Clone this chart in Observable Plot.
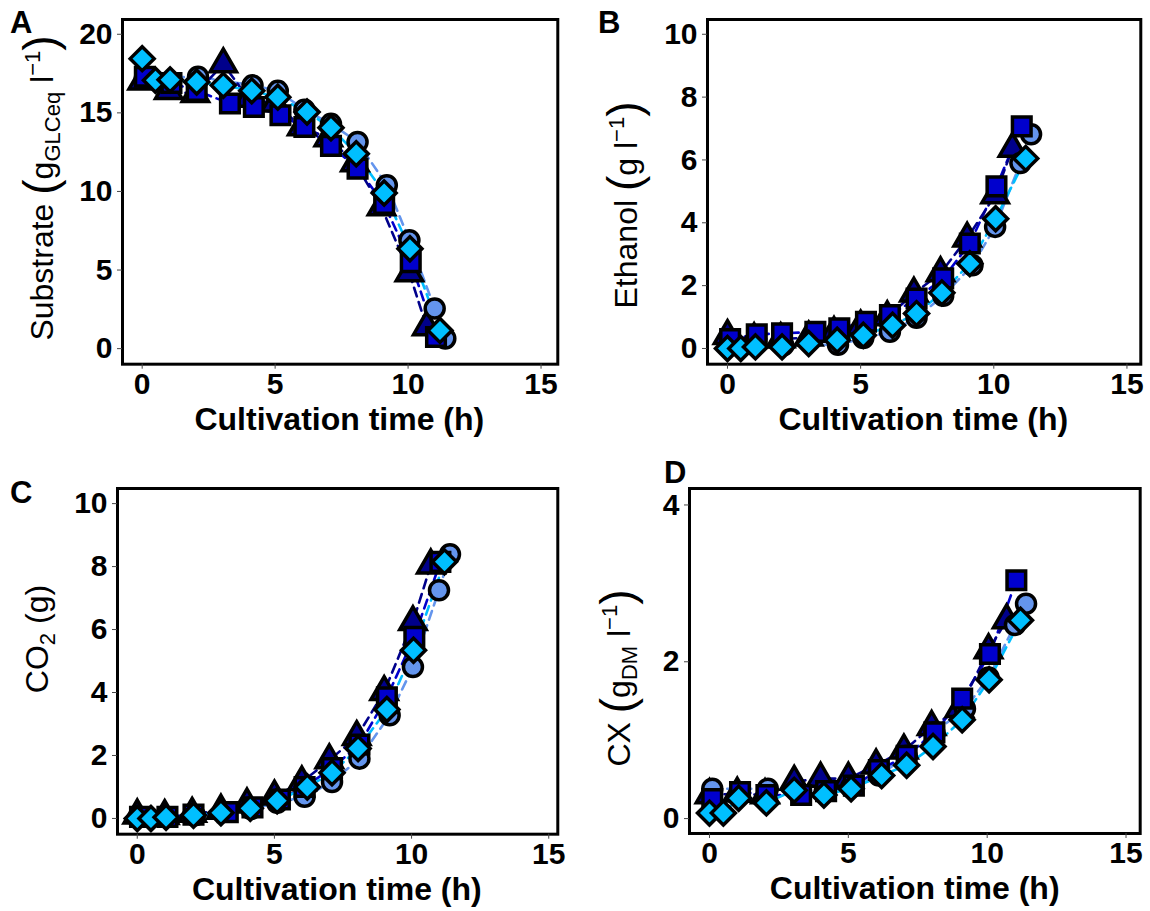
<!DOCTYPE html>
<html>
<head>
<meta charset="utf-8">
<script src="https://cdn.jsdelivr.net/npm/d3@7"></script>
<script src="https://cdn.jsdelivr.net/npm/@observablehq/plot@0.6"></script>
<style>
  html, body { margin: 0; padding: 0; background: #fff; }
  #wrap { position: relative; width: 1150px; height: 911px; background: #fff; overflow: hidden; }
  #wrap > svg, #wrap > figure { position: absolute; margin: 0; }
</style>
</head>
<body>
<div id="wrap"></div>
<script>
// ---- Data ----
const seriesNames = ["circle", "square", "triangle", "diamond"];
const seriesFill = ["#6495ED", "#0000CD", "#00008B", "#00BFFF"];
const seriesSymbol = ["circle", "square", "triangle", "diamond2"];

// time points (h) per series
const tCircle   = [0.1, 2.1, 4.15, 5.1, 6.1, 7.1, 8.1, 9.2, 10.05, 11.0, 11.4];
const tSquare   = [0.1, 1.1, 2.05, 3.3, 4.2, 5.2, 6.1, 7.1, 8.1, 9.1, 10.1, 11.05];
const tTriangle = [0, 1.0, 2.0, 3.05, 4.0, 5.0, 6.0, 7.0, 8.0, 9.0, 10.05, 10.7];
const tDiamond  = [0, 0.5, 1.05, 2.05, 3.05, 4.12, 5.1, 6.2, 7.1, 8.05, 9.1, 10.07, 11.2];

// Panel A: substrate (g GLCeq / l)
const substrateCircle   = [17.2, 17.3, 16.75, 16.4, 15.2, 14.3, 13.15, 10.4, 6.9, 2.55, 0.64];
const substrateSquare   = [17.3, 16.9, 16.4, 15.6, 15.37, 14.85, 14.1, 12.9, 11.45, 9.2, 5.5, 0.74];
const substrateTriangle = [17.0, 16.4, 16.2, 18.1, 15.9, 15.6, 14.1, 13.4, 11.8, 9.0, 4.8, 1.37];
const substrateDiamond  = [18.45, 17.07, 17.1, 16.96, 16.75, 16.4, 16.0, 15.05, 14.05, 12.4, 9.9, 6.36, 1.16];

// Panel B: ethanol (g / l)
const ethanolCircle   = [0.1, 0.1, 0.12, 0.33, 0.53, 0.98, 1.68, 2.65, 3.87, 5.9, 6.82];
const ethanolSquare   = [0.3, 0.45, 0.48, 0.53, 0.64, 0.85, 1.06, 1.59, 2.23, 3.34, 5.16, 7.07];
const ethanolTriangle = [0.4, 0.3, 0.3, 0.35, 0.5, 0.7, 1.0, 1.75, 2.4, 3.5, 4.88, 6.36];
const ethanolDiamond  = [0.0, 0.0, 0.05, 0.05, 0.16, 0.26, 0.42, 0.74, 1.11, 1.77, 2.7, 4.13, 6.05];

// Panel C: CO2 (g)
const co2Circle   = [0.05, 0.1, 0.3, 0.5, 0.69, 1.16, 1.9, 3.28, 4.81, 7.25, 8.39];
const co2Square   = [0.05, 0.05, 0.12, 0.2, 0.35, 0.6, 1.0, 1.6, 2.35, 3.85, 5.77, 8.15];
const co2Triangle = [0.1, 0.08, 0.15, 0.25, 0.45, 0.7, 1.15, 1.85, 2.59, 4.02, 6.24, 8.04];
const co2Diamond  = [0, 0, 0.04, 0.1, 0.18, 0.32, 0.56, 1.0, 1.45, 2.22, 3.46, 5.34, 8.15];

// Panel D: CX (g DM / l)
const cxCircle   = [0.38, 0.38, 0.35, 0.4, 0.55, 0.8, 1.1, 1.4, 1.8, 2.47, 2.74];
const cxSquare   = [0.25, 0.34, 0.3, 0.3, 0.35, 0.42, 0.62, 0.8, 1.1, 1.53, 2.1, 3.04];
const cxTriangle = [0.3, 0.32, 0.3, 0.47, 0.51, 0.51, 0.68, 0.87, 1.17, 1.4, 2.15, 2.53];
const cxDiamond  = [0.07, 0.07, 0.26, 0.2, 0.36, 0.3, 0.38, 0.55, 0.68, 0.92, 1.26, 1.77, 2.53];

const xTicks = [0, 5, 10, 15];
const yTicksA = [0, 5, 10, 15, 20];
const yTicksBC = [0, 2, 4, 6, 8, 10];
const yTicksD = [0, 2, 4];
const xTitle = "Cultivation time (h)";

// ---- Build ----
const times = [tCircle, tSquare, tTriangle, tDiamond];
function rows(vals) {
  const out = [];
  vals.forEach((arr, si) => arr.forEach((v, i) => out.push({series: seriesNames[si], s: si, t: times[si][i], v})));
  return out;
}

const panels = [
  {data: rows([substrateCircle, substrateSquare, substrateTriangle, substrateDiamond]),
   frame: {l: 121.7, t: 19.3, r: 557, b: 364}, xd: [-0.74, 15.63], yd: [-0.99, 20.94], yt: yTicksA},
  {data: rows([ethanolCircle, ethanolSquare, ethanolTriangle, ethanolDiamond]),
   frame: {l: 706.7, t: 19.3, r: 1140, b: 364}, xd: [-0.75, 15.52], yd: [-0.5, 10.47], yt: yTicksBC},
  {data: rows([co2Circle, co2Square, co2Triangle, co2Diamond]),
   frame: {l: 116.7, t: 488.3, r: 557, b: 834}, xd: [-0.72, 15.33], yd: [-0.5, 10.48], yt: yTicksBC},
  {data: rows([cxCircle, cxSquare, cxTriangle, cxDiamond]),
   frame: {l: 689.3, t: 488.3, r: 1140, b: 833.3}, xd: [-0.72, 15.51], yd: [-0.19, 4.21], yt: yTicksD}
];

const radius = {circle: 9.5, square: 10.5, triangle: 9.8, diamond: 10.8};
const drawOrder = [2, 0, 1, 3];
const wrap = document.getElementById("wrap");
const mL = 80, mR = 10, mT = 10, mB = 50;

panels.forEach(p => {
  const fw = p.frame.r - p.frame.l, fh = p.frame.b - p.frame.t;
  const marks = [];
  [0, 1, 2, 3].forEach(si => {
    marks.push(Plot.line(p.data.filter(d => d.s === si), {
      x: "t", y: "v", stroke: seriesFill[si], strokeWidth: 2.6, strokeDasharray: "9,6"
    }));
  });
  drawOrder.forEach(si => {
    marks.push(Plot.dot(p.data.filter(d => d.s === si), {
      x: "t", y: "v", symbol: () => seriesSymbol[si], r: radius[seriesNames[si]],
      fill: seriesFill[si], stroke: "black", strokeWidth: 3.5
    }));
  });
  marks.push(Plot.frame({stroke: "black", strokeWidth: 3}));
  marks.push(Plot.axisX({ticks: xTicks, tickFormat: d3.format("d"), tickSize: 5, tickPadding: 3, label: null, stroke: "#444"}));
  marks.push(Plot.axisY({ticks: p.yt, tickFormat: d3.format("d"), tickSize: 5, tickPadding: 5, label: null, stroke: "#444"}));
  const chart = Plot.plot({
    width: fw + mL + mR, height: fh + mT + mB,
    marginLeft: mL, marginRight: mR, marginTop: mT, marginBottom: mB,
    x: {domain: p.xd}, y: {domain: p.yd},
    symbol: {type: "identity"},
    style: {fontFamily: "'Liberation Sans', Arial, sans-serif", fontSize: "30px", fontWeight: "bold",
            color: "black", background: "transparent", overflow: "visible"},
    marks
  });
  chart.style.left = (p.frame.l - mL) + "px";
  chart.style.top = (p.frame.t - mT) + "px";
  wrap.appendChild(chart);
});

// ---- Titles overlay ----
const ov = d3.select(wrap).append("svg")
  .attr("width", 1150).attr("height", 911)
  .style("left", "0px").style("top", "0px").style("pointer-events", "none")
  .style("font-family", "'Liberation Sans', Arial, sans-serif");

// panel letters
[["A", 10, 33], ["B", 598, 33], ["C", 10, 503], ["D", 664, 483]].forEach(([s, x, y]) => {
  ov.append("text").attr("x", x).attr("y", y).attr("font-size", 31).attr("font-weight", "bold").text(s);
});

// x titles
panels.forEach((p, i) => {
  ov.append("text").attr("x", (p.frame.l + p.frame.r) / 2).attr("y", p.frame.b + 66)
    .attr("text-anchor", "middle").attr("font-size", 32).attr("font-weight", "bold").text(xTitle);
});

// y titles with sub/superscripts
function yTitle(x, y, parts) {
  const t = ov.append("text").attr("transform", `translate(${x},${y}) rotate(-90)`)
    .attr("text-anchor", "middle").attr("font-size", 32);
  parts.forEach(([s, size, dy]) => {
    const ts = t.append("tspan").text(s);
    if (size) ts.attr("font-size", size);
    if (dy) ts.attr("dy", dy);
  });
}
yTitle(53, 188, [["Substrate "], ["(", 46, 3], ["g", null, -3], ["GLCeq", 22, 7], [" l", null, -7], ["\u22121", 22, -13], [")", 46, 16]]);
yTitle(637, 205, [["Ethanol "], ["(", 46, 3], ["g l", null, -3], ["\u22121", 22, -13], [")", 46, 16]]);
yTitle(48, 639, [["CO"], ["2", 22, 7], [" (g)", null, -7]]);
yTitle(630, 678, [["CX "], ["(", 46, 3], ["g", null, -3], ["DM", 22, 7], [" l", null, -7], ["\u22121", 22, -13], [")", 46, 16]]);
</script>
</body>
</html>
